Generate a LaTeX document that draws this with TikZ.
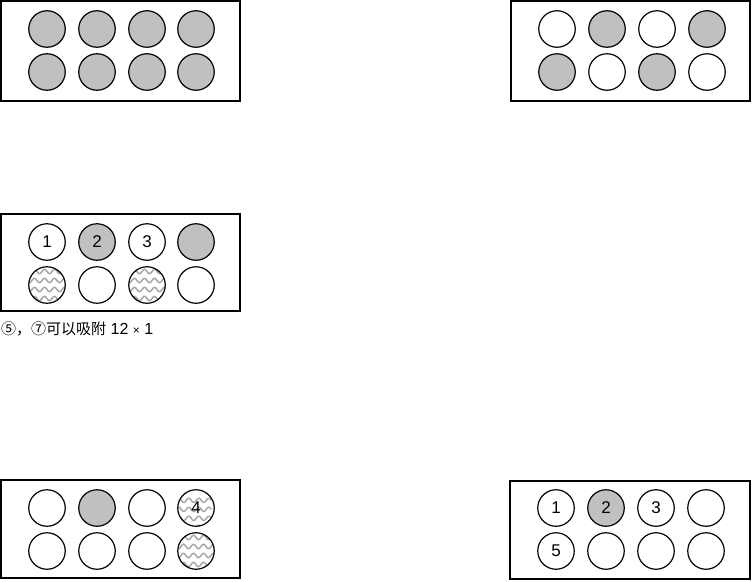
\documentclass[tikz,border=0pt]{standalone}
\usepackage{fontspec}
\setmainfont{Liberation Sans}
\newfontfamily\cjkfont{Noto Sans CJK SC}
\definecolor{ballgray}{HTML}{C0C0C0}
\definecolor{wavegray}{HTML}{A8A8A8}
\tikzset{
  frame/.style={draw, line width=1.8pt, inner sep=0pt, rectangle},
  ball/.style={circle, draw, line width=1.2pt, minimum size=36.5pt, inner sep=0pt, font=\fontsize{17}{17}\selectfont, fill=white},
  full/.style={ball, fill=ballgray},
  wavy/.style={ball, path picture={
     \begin{scope}[shift={(path picture bounding box.center)}]
       \foreach \yy in {-13.5,-4.5,4.5,13.5}
         \draw[wavegray, line width=1.5pt] plot[domain=-20:20, samples=41, smooth] (\x, {\yy + 2.2*sin(\x*36)});
     \end{scope}}},
}
\begin{document}
\begin{tikzpicture}[x=1pt, y=-1pt]
\useasboundingbox (0,0) rectangle (752,581);
% box 1
\node[frame, minimum width=239pt, minimum height=100pt] (b1) at (120.5,51) {};
\node[full] (b1a) at (47,29) {};
\node[full] (b1b) at (97,29) {};
\node[full] (b1c) at (147,29) {};
\node[full] (b1d) at (196,29) {};
\node[full] (b1e) at (47,72) {};
\node[full] (b1f) at (97,72) {};
\node[full] (b1g) at (147,72) {};
\node[full] (b1h) at (196,72) {};
% box 2
\node[frame, minimum width=239pt, minimum height=100pt] (b2) at (630.5,51) {};
\node[ball] (b2a) at (557,29) {};
\node[full] (b2b) at (607,29) {};
\node[ball] (b2c) at (657,29) {};
\node[full] (b2d) at (707,29) {};
\node[full] (b2e) at (557,72) {};
\node[ball] (b2f) at (607,72) {};
\node[full] (b2g) at (657,72) {};
\node[ball] (b2h) at (707,72) {};
% box 3
\node[frame, minimum width=239pt, minimum height=97pt] (b3) at (120.5,262.5) {};
\node[ball] (b3a) at (47,242) {1};
\node[full] (b3b) at (97,242) {2};
\node[ball] (b3c) at (147,242) {3};
\node[full] (b3d) at (196,242) {};
\node[wavy] (b3e) at (47,285) {};
\node[ball] (b3f) at (97,285) {};
\node[wavy] (b3g) at (147,285) {};
\node[ball] (b3h) at (196,285) {};
\node[anchor=base west, inner sep=0pt, font=\fontsize{15}{15}\selectfont] (lbl) at (1,334) {{\cjkfont ⑤，⑦可以吸附}\fontsize{16}{16}\selectfont\ 12 {\fontsize{12}{12}\selectfont ×} 1};
% box 4
\node[frame, minimum width=239pt, minimum height=98pt] (b4) at (120.5,529) {};
\node[ball] (b4a) at (47,508) {};
\node[full] (b4b) at (97,508) {};
\node[ball] (b4c) at (147,508) {};
\node[wavy] (b4d) at (196,508) {4};
\node[ball] (b4e) at (47,551) {};
\node[ball] (b4f) at (97,551) {};
\node[ball] (b4g) at (147,551) {};
\node[wavy] (b4h) at (196,551) {};
% box 5
\node[frame, minimum width=240pt, minimum height=98pt] (b5) at (630,530) {};
\node[ball] (b5a) at (556,508) {1};
\node[full] (b5b) at (606,508) {2};
\node[ball] (b5c) at (656,508) {3};
\node[ball] (b5d) at (706,508) {};
\node[ball] (b5e) at (556,551) {5};
\node[ball] (b5f) at (606,551) {};
\node[ball] (b5g) at (656,551) {};
\node[ball] (b5h) at (706,551) {};
\end{tikzpicture}
\end{document}
